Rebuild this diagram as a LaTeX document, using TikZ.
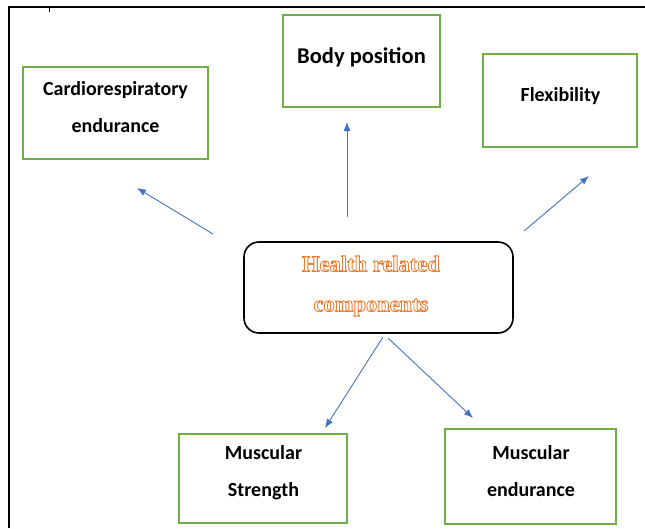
\documentclass[tikz,border=0pt]{standalone}
\usepackage{fontspec}
\setmainfont{Carlito}
\newfontfamily\hfont{Liberation Serif}
\usetikzlibrary{arrows.meta}
\definecolor{boxgreen}{RGB}{112,173,71}
\definecolor{arrowblue}{RGB}{68,114,196}
\definecolor{hlorange}{RGB}{237,125,49}
\newcommand{\hollowtext}[1]{\special{pdf:literal direct 1 Tr 0.9 w}#1\special{pdf:literal direct 0 Tr}}
\begin{document}
\begin{tikzpicture}[x=1pt,y=-1pt,
  box/.style={draw=boxgreen,line width=1.6pt,inner sep=0pt},
  boxtext/.style={inner sep=0pt,align=center,font=\bfseries\fontsize{20}{37}\selectfont},
  arr/.style={draw=arrowblue,line width=0.9pt,-{Latex[length=9pt,width=7pt]}},
  hub/.style={draw=black,line width=1.6pt,rounded corners=15pt,inner sep=0pt},
  hubtext/.style={inner sep=0pt,align=center,text=hlorange,font=\hfont\bfseries\fontsize{22.5}{40}\selectfont}]
\useasboundingbox (0,0) rectangle (645,528);
\draw[line width=2.4pt] (9,528) -- (9,7) -- (645,7);
\draw[line width=0.6pt] (49,7) -- (49,12);

\node[box,minimum width=185pt,minimum height=92pt] (cardio) at (115.5,113) {};
\node[boxtext] (cardio-t) at (115.5,107.5) {Cardiorespiratory\\endurance};
\node[box,minimum width=157pt,minimum height=92pt] (body) at (361.5,61) {};
\node[boxtext,font=\bfseries\fontsize{22.5}{26}\selectfont] (body-t) at (361.5,57) {Body position};
\node[box,minimum width=154pt,minimum height=93pt] (flex) at (560,100.5) {};
\node[boxtext] (flex-t) at (560.5,96) {Flexibility};
\node[box,minimum width=168pt,minimum height=89pt] (strength) at (263,478.5) {};
\node[boxtext] (strength-t) at (263.5,473) {Muscular\\Strength};
\node[box,minimum width=171pt,minimum height=95pt] (endur) at (530.5,476.5) {};
\node[boxtext] (endur-t) at (531,471.5) {Muscular\\endurance};
\node[hub,minimum width=269pt,minimum height=91pt] (hub) at (378.5,287.5) {};
\node[hubtext] (hub-t) at (371,286)
  {\hollowtext{Health related}\\\hollowtext{components}};

\coordinate (a1s) at (213,234); \coordinate (a1e) at (137,188);
\coordinate (a2s) at (347,217); \coordinate (a2e) at (347,122);
\coordinate (a3s) at (524,231); \coordinate (a3e) at (589,176);
\coordinate (a4s) at (383,337); \coordinate (a4e) at (325,428);
\coordinate (a5s) at (388,338); \coordinate (a5e) at (473,418);
\draw[arr] (a1s) -- (a1e);
\draw[arr] (a2s) -- (a2e);
\draw[arr] (a3s) -- (a3e);
\draw[arr] (a4s) -- (a4e);
\draw[arr] (a5s) -- (a5e);
\end{tikzpicture}
\end{document}
